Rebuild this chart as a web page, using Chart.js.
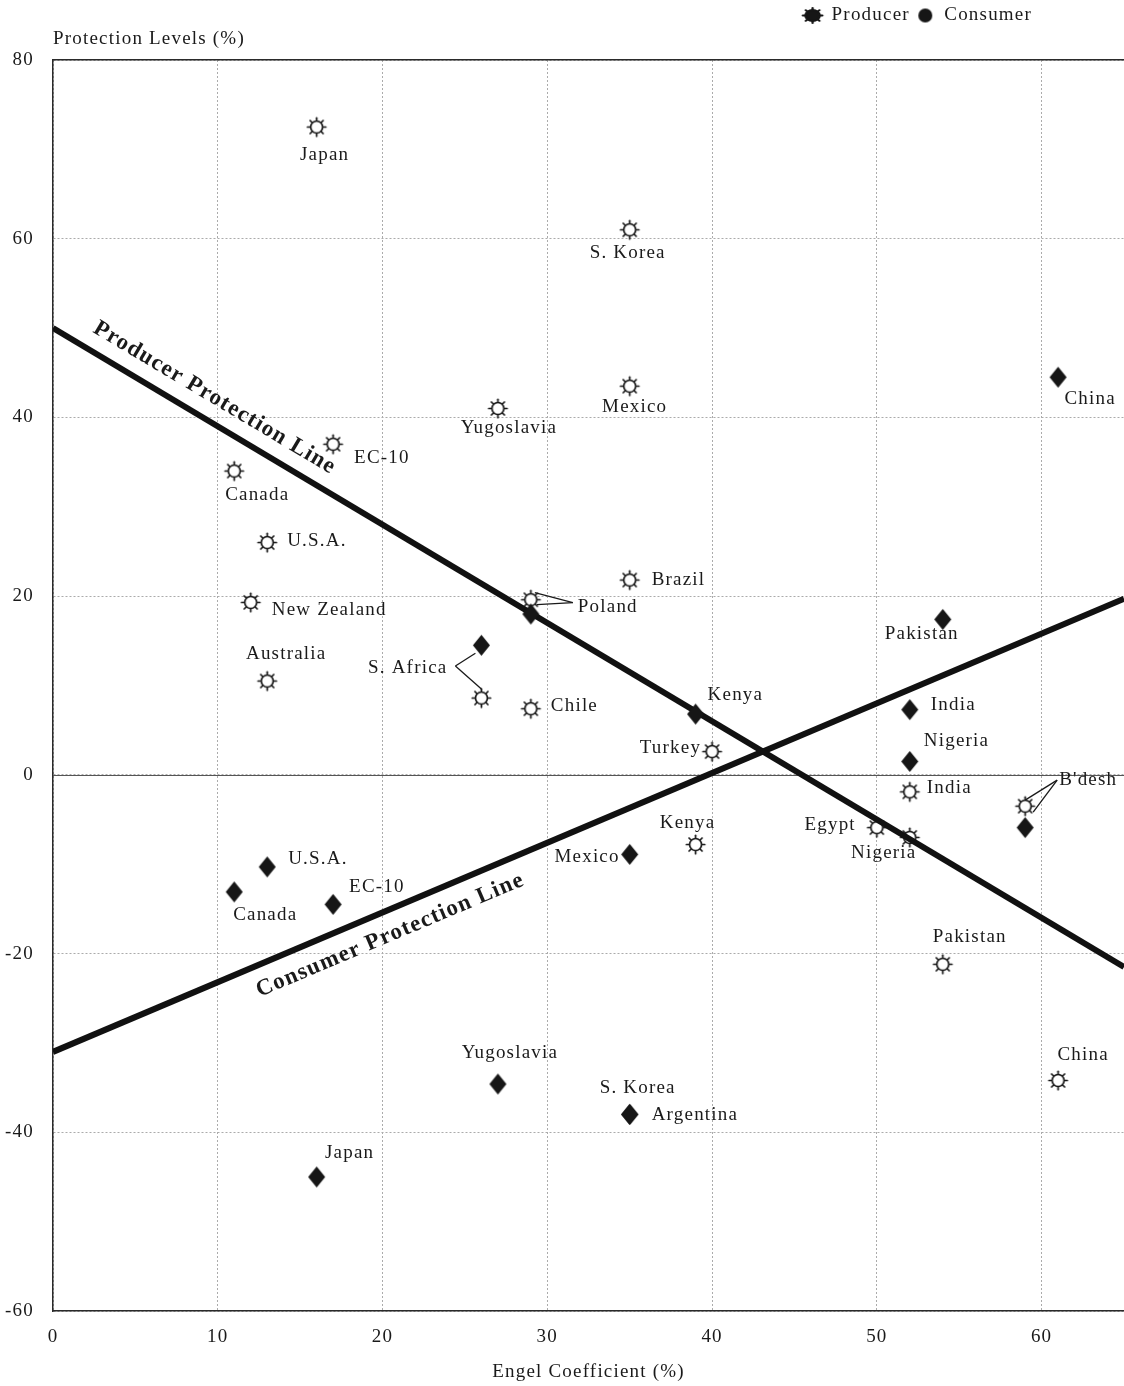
<!DOCTYPE html>
<html>
<head>
<meta charset="utf-8">
<script src="https://cdn.jsdelivr.net/npm/chart.js@4.4.1/dist/chart.umd.min.js"></script>
<style>
  html, body { margin: 0; padding: 0; background: #ffffff; }
  canvas { display: block; }
</style>
</head>
<body>
<canvas id="chart" width="1124" height="1386"></canvas>
<script>
// ---- data ----
const producerCountries = ['Japan', 'S. Korea', 'Mexico', 'Yugoslavia', 'EC-10', 'Canada', 'U.S.A.', 'New Zealand', 'Australia', 'S. Africa', 'Chile', 'Brazil', 'Poland', 'Turkey', 'Kenya', 'Egypt', 'Nigeria', 'India', "B'desh", 'Pakistan', 'China'];
const producerEngel = [16, 35, 35, 27, 17, 11, 13, 12, 13, 26, 29, 35, 29, 40, 39, 50, 52, 52, 59, 54, 61];
const producerLevel = [72.5, 61, 43.5, 41, 37, 34, 26, 19.3, 10.5, 8.6, 7.4, 21.8, 19.6, 2.6, -7.8, -5.9, -7, -1.9, -3.5, -21.2, -34.2];

const consumerCountries = ['China', 'Pakistan', 'India', 'Nigeria', "B'desh", 'Kenya', 'Poland', 'S. Africa', 'Mexico', 'U.S.A.', 'Canada', 'EC-10', 'Yugoslavia', 'S. Korea', 'Argentina', 'Japan'];
const consumerEngel = [61, 54, 52, 52, 59, 39, 29, 26, 35, 13, 11, 17, 27, 35, 35, 16];
const consumerLevel = [44.5, 17.4, 7.3, 1.5, -5.9, 6.8, 18, 14.5, -8.9, -10.3, -13.1, -14.5, -34.6, -38, -38, -45];

const lineNames = ['Producer Protection Line', 'Consumer Protection Line'];
const lineIntercepts = [50, -31];
const lineSlopes = [-1.1, 0.78];

const xTicks = [0, 10, 20, 30, 40, 50, 60];
const yTicks = [-60, -40, -20, 0, 20, 40, 60, 80];
const xRange = [0, 65];
const yRange = [-60, 80];

// ---- label layout (pixel offsets from each marker: dx, dy, text alignment) ----
const producerLabelPlacement = [
  [8, 28, 'center'],   // Japan
  [-2, 23, 'center'],  // S. Korea
  [5, 21, 'center'],   // Mexico
  [11, 20, 'center'],  // Yugoslavia
  [21, 14, 'left'],    // EC-10
  [23, 24, 'center'],  // Canada
  [20, -2, 'left'],    // U.S.A.
  [21, 8, 'left'],     // New Zealand
  [19, -27, 'center'], // Australia
  [-34, -30, 'right'], // S. Africa
  [20, -3, 'left'],    // Chile
  [22, 0, 'left'],     // Brazil
  [47, 7, 'left'],     // Poland
  [-11, -4, 'right'],  // Turkey
  [-8, -22, 'center'], // Kenya
  [-21, -3, 'right'],  // Egypt
  [-26, 16, 'center'], // Nigeria
  [17, -4, 'left'],    // India
  [34, -26, 'left'],   // B'desh
  [27, -27, 'center'], // Pakistan
  [25, -25, 'center']  // China
];
const consumerLabelPlacement = [
  [32, 22, 'center'],  // China
  [-21, 15, 'center'], // Pakistan
  [21, -5, 'left'],    // India
  [14, -20, 'left'],   // Nigeria
  null,                // B'desh (shared label)
  [12, -19, 'left'],   // Kenya
  null,                // Poland (shared label)
  null,                // S. Africa (shared label)
  [-10, 3, 'right'],   // Mexico
  [21, -8, 'left'],    // U.S.A.
  [31, 23, 'center'],  // Canada
  [16, -17, 'left'],   // EC-10
  [12, -31, 'center'], // Yugoslavia
  [8, -26, 'center'],  // S. Korea
  [22, 1, 'left'],     // Argentina
  [33, -24, 'center']  // Japan
];
// leader lines tying one label to a pair of markers
const connectors = [
  { from: ['p', 9, -26, -32], to: [['p', 9, 0, -9], ['c', 7, -6, 8]] },  // S. Africa
  { from: ['p', 12, 42, 3], to: [['p', 12, 4, -7], ['p', 12, 6, 5]] },   // Poland
  { from: ['p', 18, 32, -26], to: [['p', 18, 0, -6], ['p', 18, 8, 6]] }  // B'desh
];
// where each line's caption sits: position along the line (x value) and perpendicular offset in px
const lineCaptionAt = [9.1, 19.9];
const lineCaptionOffset = [-22.8, 24];

// ---- marker images ----
const INK = '#161616';
function makeSun(fill, r, rayIn, rayOut, lw, sx) {
  const w = Math.ceil((rayOut * 2 + 4) * sx), h = Math.ceil(rayOut * 2 + 4);
  const c = document.createElement('canvas');
  c.width = w; c.height = h;
  const g = c.getContext('2d');
  g.translate(w / 2, h / 2);
  g.scale(sx, 1);
  g.strokeStyle = INK;
  g.lineWidth = lw;
  g.lineCap = 'round';
  for (let k = 0; k < 8; k++) {
    const a = k * Math.PI / 4;
    g.beginPath();
    g.moveTo(Math.cos(a) * rayIn, Math.sin(a) * rayIn);
    g.lineTo(Math.cos(a) * rayOut, Math.sin(a) * rayOut);
    g.stroke();
  }
  g.beginPath();
  g.arc(0, 0, r, 0, Math.PI * 2);
  g.fillStyle = fill;
  g.fill();
  g.stroke();
  return c;
}
function makeDiamond(w, h) {
  const c = document.createElement('canvas');
  c.width = w + 2; c.height = h + 2;
  const g = c.getContext('2d');
  g.fillStyle = INK;
  g.beginPath();
  g.moveTo(1 + w / 2, 1);
  g.lineTo(1 + w, 1 + h / 2);
  g.lineTo(1 + w / 2, 1 + h);
  g.lineTo(1, 1 + h / 2);
  g.closePath();
  g.fill();
  return c;
}
function makeDot(r) {
  const c = document.createElement('canvas');
  c.width = c.height = r * 2 + 2;
  const g = c.getContext('2d');
  g.fillStyle = INK;
  g.beginPath();
  g.arc(r + 1, r + 1, r, 0, Math.PI * 2);
  g.fill();
  return c;
}
const sunMarker = makeSun('#ffffff', 6, 6, 9.2, 1.7, 1);
const diamondMarker = makeDiamond(17, 21);
const sunLegend = makeSun(INK, 5.5, 5.5, 7.5, 1.8, 1.3);
const dotLegend = makeDot(7);

// ---- helpers ----
const FONT = '"Liberation Serif", "Times New Roman", serif';
Chart.defaults.font.family = FONT;
Chart.defaults.font.size = 19;
Chart.defaults.color = '#1a1a1a';

function zip(xs, ys) { return xs.map((x, i) => ({ x, y: ys[i] })); }
function lineEnds(k) {
  return xRange.map(x => ({ x, y: lineIntercepts[k] + lineSlopes[k] * x }));
}
function markerPixel(chart, series, i) {
  const xs = series === 'p' ? producerEngel : consumerEngel;
  const ys = series === 'p' ? producerLevel : consumerLevel;
  return [chart.scales.x.getPixelForValue(xs[i]), chart.scales.y.getPixelForValue(ys[i])];
}

// text spacing for the whole canvas
const spacingPlugin = {
  id: 'spacing',
  beforeUpdate(chart) { chart.ctx.letterSpacing = '1.2px'; }
};

// shifts the legend block a little in from the right edge
const legendShift = {
  id: 'legendShift',
  afterLayout(chart) { if (chart.legend) chart.legend.right -= 86; }
};

// solid reference line at zero
const zeroLine = {
  id: 'zeroLine',
  beforeDatasetsDraw(chart) {
    const { ctx, chartArea, scales } = chart;
    const y = Math.round(scales.y.getPixelForValue(0)) + 0.5;
    ctx.save();
    ctx.strokeStyle = '#555';
    ctx.lineWidth = 1.2;
    ctx.beginPath();
    ctx.moveTo(chartArea.left, y);
    ctx.lineTo(chartArea.right, y);
    ctx.stroke();
    ctx.restore();
  }
};

// country names, leader lines and the captions along both protection lines
const annotations = {
  id: 'annotations',
  afterDatasetsDraw(chart) {
    const { ctx, scales } = chart;
    ctx.save();
    ctx.fillStyle = '#1a1a1a';
    ctx.font = '19px ' + FONT;
    ctx.textBaseline = 'middle';
    const draw = (names, placement, series) => {
      names.forEach((name, i) => {
        const p = placement[i];
        if (!p) return;
        const [px, py] = markerPixel(chart, series, i);
        ctx.textAlign = p[2];
        ctx.fillText(name, px + p[0], py + p[1]);
      });
    };
    draw(producerCountries, producerLabelPlacement, 'p');
    draw(consumerCountries, consumerLabelPlacement, 'c');

    ctx.strokeStyle = '#1a1a1a';
    ctx.lineWidth = 1.3;
    connectors.forEach(cn => {
      const [fx, fy] = markerPixel(chart, cn.from[0], cn.from[1]);
      const ax = fx + cn.from[2], ay = fy + cn.from[3];
      cn.to.forEach(t => {
        const [tx, ty] = markerPixel(chart, t[0], t[1]);
        ctx.beginPath();
        ctx.moveTo(ax, ay);
        ctx.lineTo(tx + t[2], ty + t[3]);
        ctx.stroke();
      });
    });

    ctx.font = 'bold 23px ' + FONT;
    ctx.textAlign = 'center';
    lineNames.forEach((name, k) => {
      const x0 = lineCaptionAt[k];
      const x1 = x0 + 1;
      const p0 = [scales.x.getPixelForValue(x0), scales.y.getPixelForValue(lineIntercepts[k] + lineSlopes[k] * x0)];
      const p1 = [scales.x.getPixelForValue(x1), scales.y.getPixelForValue(lineIntercepts[k] + lineSlopes[k] * x1)];
      const ang = Math.atan2(p1[1] - p0[1], p1[0] - p0[0]);
      const nx = -Math.sin(ang), ny = Math.cos(ang);
      const d = lineCaptionOffset[k];
      ctx.save();
      ctx.translate(p0[0] + nx * d, p0[1] + ny * d);
      ctx.rotate(ang);
      ctx.fillText(name, 0, 0);
      ctx.restore();
    });
    ctx.restore();
  }
};

const gridStyle = { color: '#ababab', lineWidth: 1, drawTicks: false };
const borderStyle = { display: true, color: '#2a2a2a', width: 1.5, dash: [2, 2] };

new Chart(document.getElementById('chart'), {
  type: 'scatter',
  data: {
    datasets: [
      {
        label: 'Producer',
        data: zip(producerEngel, producerLevel),
        pointStyle: sunMarker,
        pointRadius: 10,
        order: 3
      },
      {
        label: lineNames[0],
        data: lineEnds(0),
        showLine: true,
        borderColor: '#111111',
        borderWidth: 6,
        pointRadius: 0,
        clip: 0,
        order: 2
      },
      {
        label: lineNames[1],
        data: lineEnds(1),
        showLine: true,
        borderColor: '#111111',
        borderWidth: 6,
        pointRadius: 0,
        clip: 0,
        order: 2
      },
      {
        label: 'Consumer',
        data: zip(consumerEngel, consumerLevel),
        pointStyle: diamondMarker,
        pointRadius: 10,
        order: 1
      }
    ]
  },
  options: {
    responsive: false,
    animation: false,
    devicePixelRatio: 1,
    events: [],
    layout: { autoPadding: false, padding: { top: 0, right: 0, bottom: 0, left: 0 } },
    scales: {
      x: {
        type: 'linear',
        position: 'bottom',
        min: xRange[0],
        max: xRange[1],
        afterBuildTicks: s => { s.ticks = xTicks.map(v => ({ value: v })); },
        afterFit: s => { s.height = 75; },
        grid: gridStyle,
        border: borderStyle,
        ticks: { padding: 15, color: '#1a1a1a', font: { size: 19 }, callback: v => String(v) },
        title: {
          display: true,
          text: 'Engel Coefficient (%)',
          color: '#1a1a1a',
          font: { size: 19 },
          padding: { top: 0, bottom: 3 }
        }
      },
      xTop: {
        type: 'linear',
        position: 'top',
        min: xRange[0],
        max: xRange[1],
        afterFit: s => { s.height = 25; },
        grid: { display: false },
        border: { display: true, color: '#2a2a2a', width: 1.5 },
        ticks: { display: false },
        title: {
          display: true,
          text: 'Protection Levels (%)',
          align: 'start',
          color: '#1a1a1a',
          font: { size: 19, lineHeight: 0.45 },
          padding: { top: 0, bottom: 0 }
        }
      },
      y: {
        type: 'linear',
        position: 'left',
        min: yRange[0],
        max: yRange[1],
        afterBuildTicks: s => { s.ticks = yTicks.map(v => ({ value: v })); },
        afterFit: s => { s.width = 53; },
        grid: gridStyle,
        border: borderStyle,
        ticks: { padding: 19, color: '#1a1a1a', font: { size: 19 }, callback: v => String(v) }
      }
    },
    plugins: {
      tooltip: { enabled: false },
      legend: {
        display: true,
        position: 'top',
        align: 'end',
        labels: {
          usePointStyle: true,
          padding: 6,
          color: '#1a1a1a',
          font: { size: 19 },
          generateLabels: () => [
            { text: 'Producer', pointStyle: sunLegend, fillStyle: INK, strokeStyle: INK, lineWidth: 0, hidden: false, datasetIndex: 0, fontColor: '#1a1a1a' },
            { text: 'Consumer', pointStyle: dotLegend, fillStyle: INK, strokeStyle: INK, lineWidth: 0, hidden: false, datasetIndex: 3, fontColor: '#1a1a1a' }
          ]
        }
      }
    }
  },
  plugins: [spacingPlugin, legendShift, zeroLine, annotations]
});
</script>
</body>
</html>
